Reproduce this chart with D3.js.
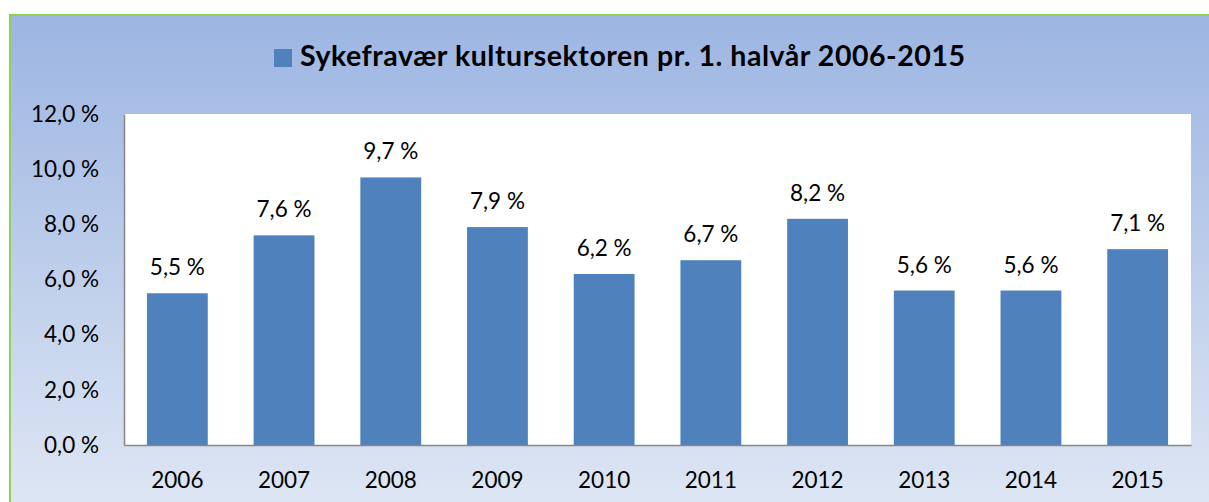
<!DOCTYPE html>
<html><head><meta charset="utf-8">
<script src="https://cdn.jsdelivr.net/npm/d3@7"></script>
<style>body{margin:0;background:#fff;}svg{display:block;font-family:Lato,"Open Sans",sans-serif;}</style>
</head><body><svg id="c" width="1209" height="502"></svg>
<script>
const categories = ["2006","2007","2008","2009","2010","2011","2012","2013","2014","2015"];
const values = [5.5,7.6,9.7,7.9,6.2,6.7,8.2,5.6,5.6,7.1];
const yTicks = [0,2,4,6,8,10,12];
const title = "Sykefravær kultursektoren pr. 1. halvår 2006-2015";

const svg = d3.select("#c");
const defs = svg.append("defs");
const g = defs.append("linearGradient").attr("id","bg").attr("x1",0).attr("y1",0).attr("x2",0).attr("y2",1);
g.append("stop").attr("offset","0%").attr("stop-color","#9cb5e2");
g.append("stop").attr("offset","100%").attr("stop-color","#dfe7f4");

svg.append("rect").attr("x",10).attr("y",15).attr("width",1210).attr("height",500)
  .attr("fill","url(#bg)").attr("stroke","#92d050").attr("stroke-width",2);

const m = {l:124, r:1191, t:114, b:445};
const x = d3.scaleBand().domain(categories).range([m.l,m.r]).paddingInner(0.43).paddingOuter(0.215);
const y = d3.scaleLinear().domain([0,12]).range([m.b,m.t]);
const fs = 22.5;

svg.append("rect").attr("x",m.l).attr("y",m.t).attr("width",m.r-m.l).attr("height",m.b-m.t).attr("fill","#fff");

svg.selectAll("rect.bar").data(values).join("rect").attr("class","bar")
  .attr("x",(d,i)=>x(categories[i])).attr("width",x.bandwidth())
  .attr("y",d=>y(d)).attr("height",d=>y(0)-y(d)).attr("fill","#4f81bd");

svg.selectAll("text.lbl").data(values).join("text").attr("class","lbl")
  .attr("x",(d,i)=>x(categories[i])+x.bandwidth()/2).attr("y",d=>y(d)-18)
  .attr("text-anchor","middle").attr("font-size",fs).attr("fill","#000")
  .text(d=>d.toFixed(1).replace(".",",")+" %");

const yAxis = d3.axisLeft(y).tickValues(yTicks).tickSize(0).tickPadding(25)
  .tickFormat(d=>d.toFixed(1).replace(".",",")+" %");
const ya = svg.append("g").attr("transform",`translate(${m.l},0)`).call(yAxis);
ya.select(".domain").attr("stroke","#868686").attr("stroke-width",1.5);
ya.selectAll("text").attr("font-size",fs).attr("fill","#000").attr("font-family","Lato,sans-serif");

const xAxis = d3.axisBottom(x).tickSize(0).tickPadding(27);
const xa = svg.append("g").attr("transform",`translate(0,${m.b})`).call(xAxis);
xa.select(".domain").attr("stroke","#868686").attr("stroke-width",1.5);
xa.selectAll("text").attr("font-size",fs).attr("fill","#000").attr("font-family","Lato,sans-serif");

const tg = svg.append("g");
tg.append("text").attr("x",300).attr("y",66).attr("font-size",28.5).attr("font-weight","bold")
  .attr("fill","#000").attr("textLength",665).attr("lengthAdjust","spacing").text(title);
tg.append("rect").attr("x",274).attr("y",49).attr("width",18).attr("height",18).attr("fill","#4f81bd");
</script></body></html>
